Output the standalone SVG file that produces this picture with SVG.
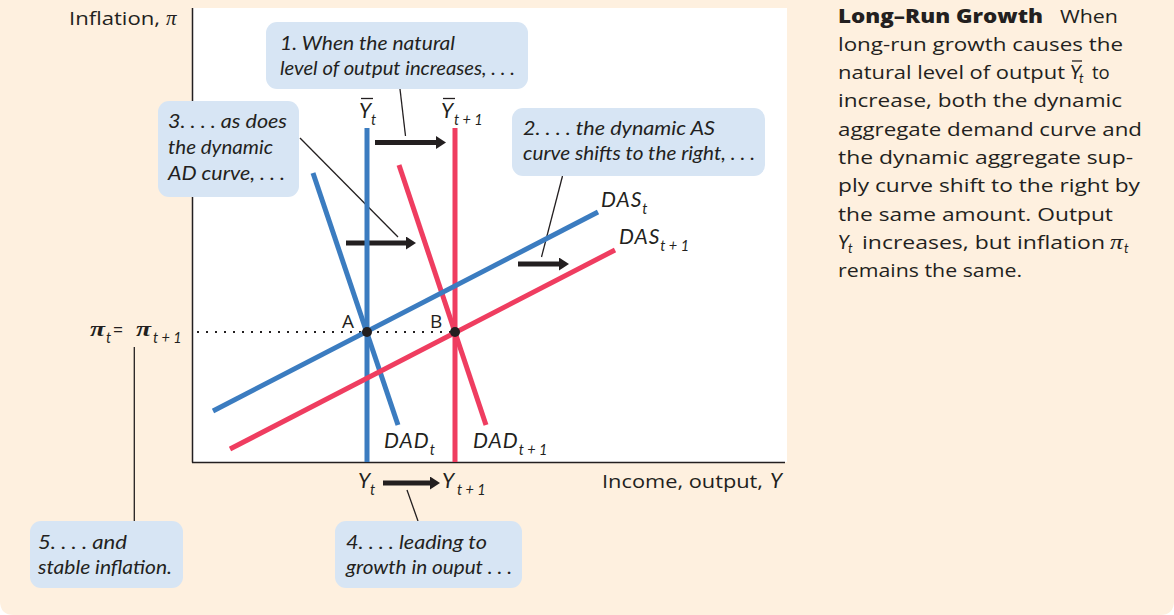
<svg xmlns="http://www.w3.org/2000/svg" width="1174" height="615" viewBox="0 0 1174 615">
<style>
.bg{fill:#fef0df}
.plot{fill:#ffffff}
.axis{stroke:#231f20;stroke-width:1.5;fill:none}
.blue{stroke:#3b7cc0;stroke-width:5;fill:none}
.red{stroke:#ef3d60;stroke-width:5;fill:none}
.dot{stroke:#231f20;stroke-width:2;stroke-dasharray:2 7;fill:none}
.lead{stroke:#231f20;stroke-width:1.3;fill:none}
.bar{stroke:#231f20;stroke-width:1.3}
.shift{stroke:#231f20;stroke-width:5;fill:none}
.box{fill:#d7e5f4}
.call{font-family:Lato,"Open Sans",sans-serif;font-style:italic;font-size:20px;fill:#231f20}
.lab{font-family:"Open Sans",Lato,sans-serif;font-size:17.5px;fill:#231f20}
.pointlab{font-family:"Open Sans",Lato,sans-serif;font-size:19px;fill:#231f20}
.var{font-family:Lato,"Open Sans",sans-serif;font-style:italic;font-size:21px;letter-spacing:1px;fill:#231f20}
.sub{font-size:14.5px;letter-spacing:0}
.pi{font-family:"Liberation Serif",serif;font-style:italic;font-weight:700;font-size:21px;fill:#231f20}
.pir{font-family:"Liberation Serif",serif;font-style:italic;font-weight:400;font-size:21px;fill:#231f20}
.body{font-family:"Open Sans",Lato,sans-serif;font-size:18.5px;fill:#231f20}
.bi{font-family:Lato,sans-serif;font-style:italic;font-size:19px;fill:#231f20}
.bsub{font-family:Lato,sans-serif;font-style:italic;font-size:13px;fill:#231f20}
.bold{font-family:"Open Sans",Lato,sans-serif;font-weight:800;font-size:19px;fill:#231f20}
.pt{fill:#231f20}
</style>
<defs>
<marker id="ah" markerUnits="userSpaceOnUse" markerWidth="12" markerHeight="14" refX="3" refY="6.5" orient="auto">
<path d="M0,0 L10,6.5 L0,13 z" fill="#231f20"/>
</marker>
</defs>
<rect x="0" y="0" width="1174" height="615" fill="#ffffff"/>
<path class="bg" d="M0,0 H1174 V601 Q1174,615 1160,615 H14 Q0,615 0,601 Z"/>
<rect class="plot" x="193" y="8" width="594" height="454"/>

<g id="axes">
<line class="axis" x1="192.5" y1="8" x2="192.5" y2="462.5"/>
<line class="axis" x1="192" y1="462.5" x2="785" y2="462.5"/>
<text class="lab" x="69" y="25" textLength="91" lengthAdjust="spacingAndGlyphs">Inflation,</text>
<text class="pir" x="166" y="25">π</text>
<text class="lab" x="602" y="488" textLength="161" lengthAdjust="spacingAndGlyphs">Income, output,</text>
<text class="var" x="770" y="488">Y</text>
</g>

<g id="connectors">
<line class="dot" x1="197" y1="332" x2="455" y2="332"/>
<line class="lead" x1="400" y1="89" x2="405.5" y2="136"/>
<line class="lead" x1="300" y1="138" x2="398" y2="237"/>
<line class="lead" x1="562.5" y1="176" x2="541.5" y2="257"/>
<line class="lead" x1="407" y1="490" x2="418" y2="521"/>
<line class="lead" x1="134.3" y1="347" x2="134.3" y2="521"/>
<line class="shift" x1="375" y1="142.5" x2="439" y2="142.5" marker-end="url(#ah)"/>
<line class="shift" x1="346" y1="243" x2="409" y2="243" marker-end="url(#ah)"/>
<line class="shift" x1="518" y1="264" x2="562" y2="264" marker-end="url(#ah)"/>
<line class="shift" x1="383" y1="483" x2="433" y2="483" marker-end="url(#ah)"/>
</g>

<g id="curve-ybar-t">
<line class="blue" x1="367" y1="128" x2="367" y2="462"/>
<text class="var" x="359" y="118">Y</text>
<text class="var sub" x="371" y="125">t</text>
<line class="bar" x1="361" y1="98.5" x2="373" y2="98.5"/>
</g>
<g id="curve-ybar-t1">
<line class="red" x1="455" y1="128" x2="455" y2="462"/>
<text class="var" x="441" y="118">Y</text>
<text class="var sub" x="454" y="125">t + 1</text>
<line class="bar" x1="443" y1="98.5" x2="455" y2="98.5"/>
</g>
<g id="curve-dad-t">
<line class="blue" x1="313" y1="173" x2="398" y2="425"/>
<text class="var" x="384" y="448">DAD<tspan class="sub" dy="7">t</tspan></text>
</g>
<g id="curve-dad-t1">
<line class="red" x1="399" y1="165" x2="486" y2="425"/>
<text class="var" x="473" y="448">DAD<tspan class="sub" dy="7">t + 1</tspan></text>
</g>
<g id="curve-das-t">
<line class="blue" x1="213" y1="411" x2="598" y2="212"/>
<text class="var" x="601" y="207">DAS<tspan class="sub" dy="7">t</tspan></text>
</g>
<g id="curve-das-t1">
<line class="red" x1="230" y1="449" x2="615" y2="250"/>
<text class="var" x="619" y="244">DAS<tspan class="sub" dy="7">t + 1</tspan></text>
</g>

<g id="point-a">
<circle class="pt" cx="367" cy="332" r="5"/>
<text class="pointlab" x="342" y="328">A</text>
</g>
<g id="point-b">
<circle class="pt" cx="455" cy="332" r="5"/>
<text class="pointlab" x="430" y="328">B</text>
</g>

<g id="pi-label">
<text class="pi" x="90" y="336" textLength="15" lengthAdjust="spacingAndGlyphs">π</text>
<text class="var sub" x="106" y="343">t</text>
<text class="lab" x="113" y="336">=</text>
<text class="pi" x="136" y="336" textLength="15" lengthAdjust="spacingAndGlyphs">π</text>
<text class="var sub" x="153" y="343">t + 1</text>
</g>

<g id="output-label">
<text class="var" x="358" y="488">Y</text>
<text class="var sub" x="370" y="495">t</text>
<text class="var" x="442" y="488">Y</text>
<text class="var sub" x="457" y="495">t + 1</text>
</g>

<g id="callout-1">
<rect class="box" x="266" y="22" width="262" height="67" rx="11"/>
<text class="call" x="280" y="50" textLength="175" lengthAdjust="spacingAndGlyphs">1. When the natural</text>
<text class="call" x="280" y="75" textLength="235" lengthAdjust="spacingAndGlyphs">level of output increases, . . .</text>
</g>
<g id="callout-2">
<rect class="box" x="512" y="108" width="253" height="68" rx="11"/>
<text class="call" x="523" y="135" textLength="192" lengthAdjust="spacingAndGlyphs">2. . . . the dynamic AS</text>
<text class="call" x="523" y="160" textLength="232" lengthAdjust="spacingAndGlyphs">curve shifts to the right, . . .</text>
</g>
<g id="callout-3">
<rect class="box" x="158" y="101" width="141" height="96" rx="11"/>
<text class="call" x="168" y="128" textLength="119" lengthAdjust="spacingAndGlyphs">3. . . . as does</text>
<text class="call" x="168" y="154" textLength="105" lengthAdjust="spacingAndGlyphs">the dynamic</text>
<text class="call" x="168" y="180" textLength="117" lengthAdjust="spacingAndGlyphs">AD curve, . . .</text>
</g>
<g id="callout-4">
<rect class="box" x="335" y="521" width="187" height="67" rx="11"/>
<text class="call" x="346" y="549" textLength="141" lengthAdjust="spacingAndGlyphs">4. . . . leading to</text>
<text class="call" x="346" y="574" textLength="166" lengthAdjust="spacingAndGlyphs">growth in ouput . . .</text>
</g>
<g id="callout-5">
<rect class="box" x="30" y="521" width="153" height="67" rx="11"/>
<text class="call" x="38" y="549" textLength="89" lengthAdjust="spacingAndGlyphs">5. . . . and</text>
<text class="call" x="38" y="574" textLength="134" lengthAdjust="spacingAndGlyphs">stable inflation.</text>
</g>

<g id="caption">
<text class="bold" x="838" y="23" textLength="205" lengthAdjust="spacingAndGlyphs">Long–Run Growth</text>
<text class="body" x="1060" y="23" textLength="58" lengthAdjust="spacingAndGlyphs">When</text>
<text class="body" x="838" y="51" textLength="285" lengthAdjust="spacingAndGlyphs">long-run growth causes the</text>
<text class="body" x="838" y="79" textLength="227" lengthAdjust="spacingAndGlyphs">natural level of output</text>
<text class="bi" x="1070" y="79">Y</text>
<text class="bsub" x="1079" y="83">t</text>
<line class="bar" x1="1072" y1="61" x2="1082" y2="61"/>
<text class="body" x="1092" y="79">to</text>
<text class="body" x="838" y="107" textLength="284" lengthAdjust="spacingAndGlyphs">increase, both the dynamic</text>
<text class="body" x="838" y="136" textLength="304" lengthAdjust="spacingAndGlyphs">aggregate demand curve and</text>
<text class="body" x="838" y="164" textLength="295" lengthAdjust="spacingAndGlyphs">the dynamic aggregate sup-</text>
<text class="body" x="838" y="192" textLength="302" lengthAdjust="spacingAndGlyphs">ply curve shift to the right by</text>
<text class="body" x="838" y="221" textLength="275" lengthAdjust="spacingAndGlyphs">the same amount. Output</text>
<text class="bi" x="838" y="249">Y</text>
<text class="bsub" x="848" y="253">t</text>
<text class="body" x="862" y="249" textLength="243" lengthAdjust="spacingAndGlyphs">increases, but inflation</text>
<text class="pir" x="1110" y="249" textLength="13" lengthAdjust="spacingAndGlyphs">π</text>
<text class="bsub" x="1124" y="253">t</text>
<text class="body" x="838" y="277" textLength="184" lengthAdjust="spacingAndGlyphs">remains the same.</text>
</g>
</svg>
